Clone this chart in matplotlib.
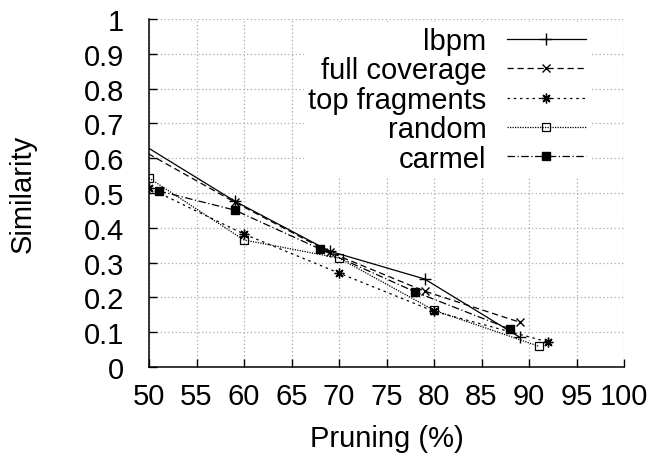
import matplotlib
matplotlib.use("Agg")
import matplotlib.pyplot as plt

plt.rcParams['font.family'] = ['Liberation Sans', 'DejaVu Sans']

# values (first lbpm / full coverage points lie just left of the axis)
lbpm_x = [49, 59, 69, 79, 89]
lbpm_y = [0.645, 0.477, 0.333, 0.253, 0.086]

full_x = [49, 59, 69, 79, 89]
full_y = [0.627, 0.474, 0.330, 0.218, 0.129]

top_x = [50, 60, 70, 80, 92]
top_y = [0.514, 0.382, 0.270, 0.160, 0.072]

random_x = [50, 60, 70, 80, 91]
random_y = [0.543, 0.365, 0.313, 0.163, 0.060]

carmel_x = [51, 59, 68, 78, 88]
carmel_y = [0.506, 0.451, 0.339, 0.216, 0.109]

x_ticks = [50, 55, 60, 65, 70, 75, 80, 85, 90, 95, 100]
y_ticks = [0, 0.1, 0.2, 0.3, 0.4, 0.5, 0.6, 0.7, 0.8, 0.9, 1]
y_tick_labels = ['0', '0.1', '0.2', '0.3', '0.4', '0.5', '0.6', '0.7', '0.8', '0.9', '1']

fig = plt.figure(figsize=(6.55, 4.64), dpi=100)
ax = fig.add_axes([149 / 655, 1 - 368 / 464, 475 / 655, 348 / 464])

lw = 0.9
ax.plot(lbpm_x, lbpm_y, color='black', lw=lw, linestyle='-',
        marker='+', markersize=8, mew=1, label='lbpm')
ax.plot(full_x, full_y, color='black', lw=lw, linestyle=(0, (5, 3)),
        marker='x', markersize=6, mew=1, label='full coverage')
ax.plot(top_x, top_y, color='black', lw=lw, linestyle=(0, (2, 3)),
        marker=(8, 2, 0), markersize=7, mew=1, label='top fragments')
ax.plot(random_x, random_y, color='black', lw=lw, linestyle=(0, (1, 1)),
        marker='s', markersize=6, mew=0.9, fillstyle='none', label='random')
ax.plot(carmel_x, carmel_y, color='black', lw=lw, linestyle=(0, (6, 2, 1, 2)),
        marker='s', markersize=6, label='carmel')

ax.set_xlim(50, 100)
ax.set_ylim(0, 1)
ax.set_xticks(x_ticks)
ax.set_yticks(y_ticks)
ax.set_yticklabels(y_tick_labels)

ax.grid(True, color='#aaaaaa', linestyle=(0, (1, 2)), linewidth=0.9)
ax.set_axisbelow(True)

for side in ['top', 'right']:
    ax.spines[side].set_visible(False)
ax.spines['left'].set_linewidth(1.1)
ax.spines['bottom'].set_linewidth(1.1)

ax.tick_params(direction='in', length=6, width=1, labelsize=21)
ax.tick_params(axis='y', pad=18)
ax.tick_params(axis='x', pad=11)

ax.set_xlabel('Pruning (%)', fontsize=21, labelpad=10)
ax.set_ylabel('Similarity', fontsize=21, labelpad=34)

leg = ax.legend(loc='upper right', bbox_to_anchor=((590 - 149) / 475, 0.99),
                markerfirst=False, fontsize=21, handlelength=2.7,
                handletextpad=0.7, labelspacing=0.05, borderpad=0.15,
                borderaxespad=0, frameon=True, fancybox=False,
                edgecolor='none', facecolor='white', framealpha=1)

fig.savefig('out.png', dpi=100)
